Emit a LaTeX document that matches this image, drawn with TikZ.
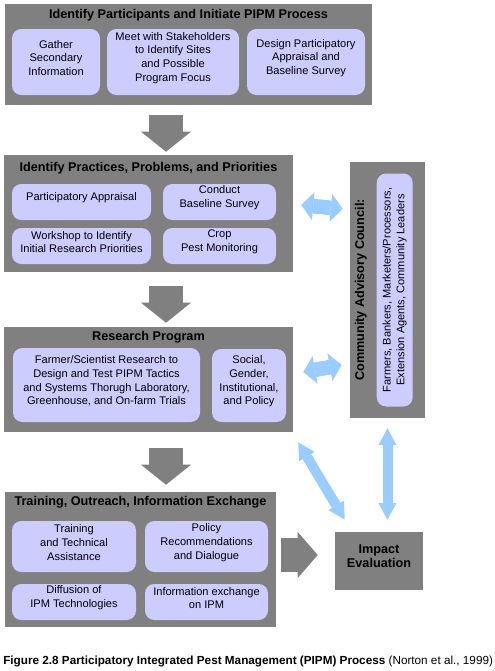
\documentclass[tikz,border=0pt]{standalone}
\usepackage{fontspec}
\setmainfont{Liberation Sans}
\usetikzlibrary{arrows.meta, fit}

\definecolor{panelgray}{RGB}{128,128,128}
\definecolor{boxlav}{RGB}{204,204,255}
\definecolor{arrblue}{RGB}{153,204,255}

\tikzset{
  panel/.style={fill=panelgray, inner sep=0pt},
  item/.style={fill=boxlav, rounded corners=7pt, inner sep=0pt, align=center,
    font=\fontsize{8.3}{10.3}\selectfont},
  ptitle/.style={font=\fontsize{9.5}{10.5}\selectfont\bfseries, inner sep=0pt},
  blockarr/.style={draw=panelgray, line width=25.5pt,
    -{Triangle[length=15pt, width=37.5pt, line width=0pt]}},
  widearr/.style={draw=arrblue, line width=11pt,
    {Triangle[length=9pt, width=21pt, line width=0pt]}-{Triangle[length=9pt, width=21pt, line width=0pt]}},
  thinarr/.style={draw=arrblue, line width=7.5pt,
    {Triangle[length=12.5pt, width=13.5pt, line width=0pt]}-{Triangle[length=12.5pt, width=13.5pt, line width=0pt]}}
}

\begin{document}
\begin{tikzpicture}[x=0.75pt, y=-0.75pt]
  \useasboundingbox (0,0) rectangle (495,671);

  % Identify participants
  \node[panel, fit={(5,4) (372,105)}] (p1) {};
  \node[ptitle] (t1) at ([shift={(0,11)}]p1.north) {Identify Participants and Initiate PIPM Process};
  \node[item, fit={(12,29) (100,95)}] (gather) {Gather\\Secondary\\Information};
  \node[item, fit={(107,29) (239,95)}] (meet) {Meet with Stakeholders\\to Identify Sites\\and Possible\\Program Focus};
  \node[item, fit={(247,29) (365,95)}] (design) {Design Participatory\\Appraisal and\\Baseline Survey};

  % Practices, problems, priorities
  \node[panel, fit={(4,155) (293,272)}] (p2) {};
  \node[ptitle] (t2) at ([shift={(0,13)}]p2.north) {Identify Practices, Problems, and Priorities};
  \node[item, fit={(12,184) (151,220)}] (appraisal) {Participatory Appraisal};
  \node[item, fit={(163,184) (276,220)}] (baseline) {Conduct\\Baseline Survey};
  \node[item, fit={(12,228) (151,264)}] (workshop) {Workshop to Identify\\Initial Research Priorities};
  \node[item, fit={(163,228) (276,264)}] (monitor) {Crop\\Pest Monitoring};

  % Research program
  \node[panel, fit={(4,327) (293,432)}] (p3) {};
  \node[ptitle] (t3) at ([shift={(0,11)}]p3.north) {Research Program};
  \node[item, fit={(13,348) (200,422)}] (trials) {Farmer/Scientist Research to\\Design and Test PIPM Tactics\\and Systems Thorugh Laboratory,\\Greenhouse, and On-farm Trials};
  \node[item, fit={(212,349) (286,422)}] (social) {Social,\\Gender,\\Institutional,\\and Policy};

  % Training and outreach
  \node[panel, fit={(5,492) (276,627)}] (p4) {};
  \node[ptitle] (t4) at ([shift={(0,11)}]p4.north) {Training, Outreach, Information Exchange};
  \node[item, fit={(12,521) (136,572)}] (training) {Training\\and Technical\\Assistance};
  \node[item, fit={(145,521) (268,572)}] (policy) {Policy\\Recommendations\\and Dialogue};
  \node[item, fit={(12,584) (136,620)}] (diffusion) {Diffusion of\\IPM Technologies};
  \node[item, fit={(145,584) (268,620)}] (infoex) {Information exchange\\on IPM};

  % Council and impact
  \node[panel, fit={(350,162) (425,418)}] (cac) {};
  \node[ptitle, rotate=90] (cactitle) at ([shift={(11,0)}]cac.west) {Community Advisory Council:};
  \node[item, rotate=90, minimum width=174.75pt, minimum height=27pt] (members)
    at ([shift={(45,0)}]cac.west) {Farmers, Bankers, Marketers/Processors,\\Extension Agents, Community Leaders};
  \node[panel, ptitle, align=center, fit={(335,532) (423,590)}] (imp) {Impact\\Evaluation};

  % Gray arrows
  \coordinate (acol) at (166,0);
  \coordinate (arow) at (0,555);
  \draw[blockarr] ([shift={(0,10)}]acol |- p1.south) -- ([shift={(0,-3)}]acol |- p2.north);
  \draw[blockarr] ([shift={(0,14)}]acol |- p2.south) -- ([shift={(0,-4)}]acol |- p3.north);
  \draw[blockarr] ([shift={(0,16)}]acol |- p3.south) -- ([shift={(0,-7)}]acol |- p4.north);
  \draw[blockarr, -{Triangle[length=15pt, width=34.5pt, line width=0pt]}]
    ([shift={(5,0)}]p4.east |- arow) -- ([shift={(-17,0)}]imp.west |- arow);

  % Blue arrows
  \draw[widearr] ([shift={(8,-8.5)}]p2.east) -- ([shift={(-7,-81)}]cac.west);
  \draw[widearr] ([shift={(10,-7.5)}]p3.east) -- ([shift={(-8,75)}]cac.west);
  \draw[thinarr] ([shift={(5,10)}]p3.south east) -- ([shift={(10,-12)}]imp.north west);
  \draw[thinarr] ([shift={(0,10)}]cac.south) -- ([shift={(0,-12)}]cac.south |- imp.north);

  % Caption
  \node[anchor=west, inner sep=0pt, font=\fontsize{8.8}{10}\selectfont] (caption) at (3,661)
    {\textbf{Figure 2.8 Participatory Integrated Pest Management (PIPM) Process} (Norton et al., 1999)};
\end{tikzpicture}
\end{document}
